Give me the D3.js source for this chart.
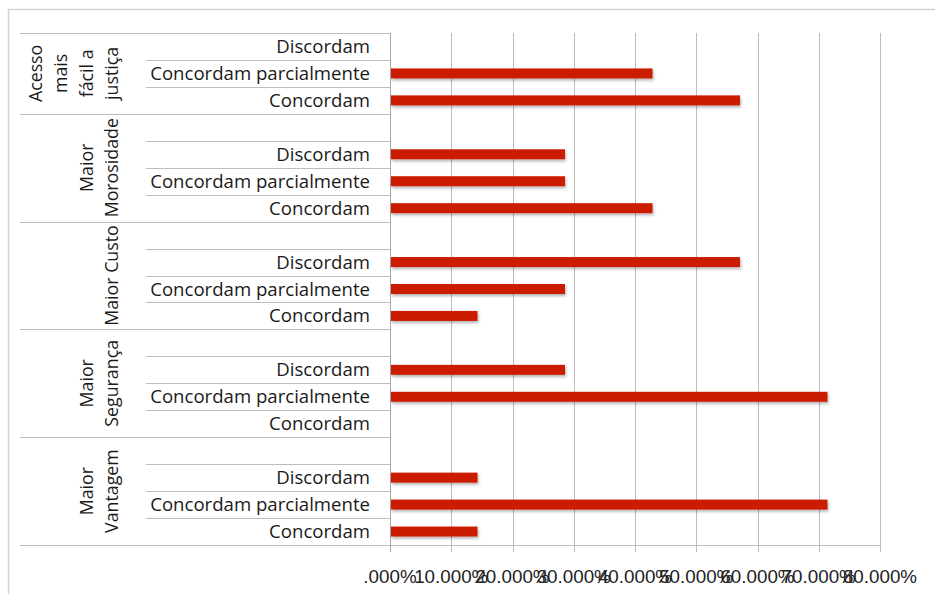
<!DOCTYPE html>
<html>
<head>
<meta charset="utf-8">
<script src="https://cdn.jsdelivr.net/npm/d3@7"></script>
<style>
  html, body { margin: 0; padding: 0; background: #fff; }
  svg { display: block; }
</style>
</head>
<body>
<svg id="chart" width="935" height="594"></svg>
<script>
// Survey answers, share of respondents per statement
const groups = ["Acesso mais fácil a justiça", "Maior Morosidade", "Maior Custo", "Maior Segurança", "Maior Vantagem"];
const groupLines = [["Acesso", "mais", "fácil a", "justiça"], ["Maior", "Morosidade"], ["Maior Custo"], ["Maior", "Segurança"], ["Maior", "Vantagem"]];
const groupHasSpacer = [false, true, true, true, true];
const responses = ["Discordam", "Concordam parcialmente", "Concordam"];
const discordam = [0, 28.57, 57.14, 28.57, 14.29];
const concordamParcialmente = [42.86, 28.57, 28.57, 71.43, 71.43];
const concordam = [57.14, 42.86, 14.29, 0, 14.29];
const tickValues = [0, 10, 20, 30, 40, 50, 60, 70, 80];
const tickLabels = [".000%", "10.000%", "20.000%", "30.000%", "40.000%", "50.000%", "60.000%", "70.000%", "80.000%"];

const seriesByResponse = [discordam, concordamParcialmente, concordam];

// Flatten into rows, top to bottom
const rows = [];
groups.forEach((g, gi) => {
  if (groupHasSpacer[gi]) rows.push({ id: g + "|spacer", group: gi, label: "", value: null });
  responses.forEach((r, ri) => {
    rows.push({ id: g + "|" + r, group: gi, label: r, value: seriesByResponse[ri][gi] });
  });
});

const svg = d3.select("#chart");
const plot = { left: 390, right: 880, top: 33, bottom: 545 };
const lineColor = "#bcbcbc";
const labelFont = "Open Sans, Lato, sans-serif";

// Outer frame
svg.append("rect")
  .attr("x", 8.5).attr("y", 9.5)
  .attr("width", 960).attr("height", 620)
  .attr("fill", "none").attr("stroke", "#d2d2d2").attr("stroke-width", 1.5);

const x = d3.scaleLinear().domain([0, 80]).range([plot.left, plot.right]);
const y = d3.scaleBand().domain(rows.map(d => d.id)).range([plot.top, plot.bottom]).paddingInner(0).paddingOuter(0);
const bw = y.bandwidth();

// Vertical gridlines (extend below as tick marks)
svg.append("g").selectAll("line").data(tickValues).join("line")
  .attr("x1", d => Math.round(x(d)) + 0.5).attr("x2", d => Math.round(x(d)) + 0.5)
  .attr("y1", plot.top).attr("y2", plot.bottom + 7)
  .attr("stroke", lineColor).attr("stroke-width", 1);

// Bottom value axis line
svg.append("line")
  .attr("x1", plot.left).attr("x2", plot.right)
  .attr("y1", plot.bottom + 0.5).attr("y2", plot.bottom + 0.5)
  .attr("stroke", lineColor);

// Tick labels
svg.append("g").selectAll("text").data(tickValues).join("text")
  .attr("x", d => x(d)).attr("y", 583)
  .attr("text-anchor", "middle")
  .attr("font-family", "Liberation Sans, Arial, sans-serif")
  .attr("font-size", 18.8).attr("fill", "#222")
  .text((d, i) => tickLabels[i]);

// Category axis: row separators
const boundaries = [];
rows.forEach((r, i) => {
  const yTop = y(r.id);
  const isGroupStart = i === 0 || rows[i - 1].group !== r.group;
  boundaries.push({ y: yTop, group: isGroupStart });
});
boundaries.push({ y: plot.bottom, group: true });

svg.append("g").selectAll("line").data(boundaries).join("line")
  .attr("x1", d => d.group ? 20 : 146).attr("x2", plot.left)
  .attr("y1", d => Math.round(d.y) + 0.5).attr("y2", d => Math.round(d.y) + 0.5)
  .attr("stroke", lineColor).attr("stroke-width", 1);

// Leaf labels
svg.append("g").selectAll("text").data(rows.filter(r => r.label)).join("text")
  .attr("x", 370).attr("y", d => y(d.id) + bw / 2)
  .attr("dy", "0.35em")
  .attr("text-anchor", "end")
  .attr("font-family", labelFont).attr("font-size", 18.6).attr("fill", "#1a1a1a")
  .text(d => d.label);

// Group labels, rotated and wrapped
groups.forEach((g, gi) => {
  const gRows = rows.filter(r => r.group === gi);
  const cy = (y(gRows[0].id) + y(gRows[gRows.length - 1].id) + bw) / 2;
  const lines = groupLines[gi];
  const n = lines.length;
  lines.forEach((t, li) => {
    const cx = 112 - (n - 1 - li) * 25.5;
    svg.append("text")
      .attr("transform", `translate(${cx},${cy}) rotate(-90)`)
      .attr("text-anchor", "middle").attr("dy", "0.35em")
      .attr("font-family", labelFont).attr("font-size", 17.8).attr("fill", "#1a1a1a")
      .text(t);
  });
});

// Value axis line at zero
svg.append("line")
  .attr("x1", plot.left + 0.5).attr("x2", plot.left + 0.5)
  .attr("y1", plot.top).attr("y2", plot.bottom + 7)
  .attr("stroke", "#a8a8a8");

// Bar shadow
const defs = svg.append("defs");
const f = defs.append("filter").attr("id", "barShadow").attr("x", "-5%").attr("y", "-50%").attr("width", "110%").attr("height", "220%");
f.append("feDropShadow").attr("dx", 1).attr("dy", 2).attr("stdDeviation", 1.4)
  .attr("flood-color", "#000").attr("flood-opacity", 0.3);

// Bars
const barH = 10;
svg.append("g").selectAll("rect").data(rows.filter(r => r.value)).join("rect")
  .attr("x", x(0) + 1)
  .attr("y", d => y(d.id) + bw / 2 - barH / 2)
  .attr("width", d => x(d.value) - x(0) - 1)
  .attr("height", barH)
  .attr("fill", "#cc1f00")
  .attr("filter", "url(#barShadow)");
</script>
</body>
</html>
